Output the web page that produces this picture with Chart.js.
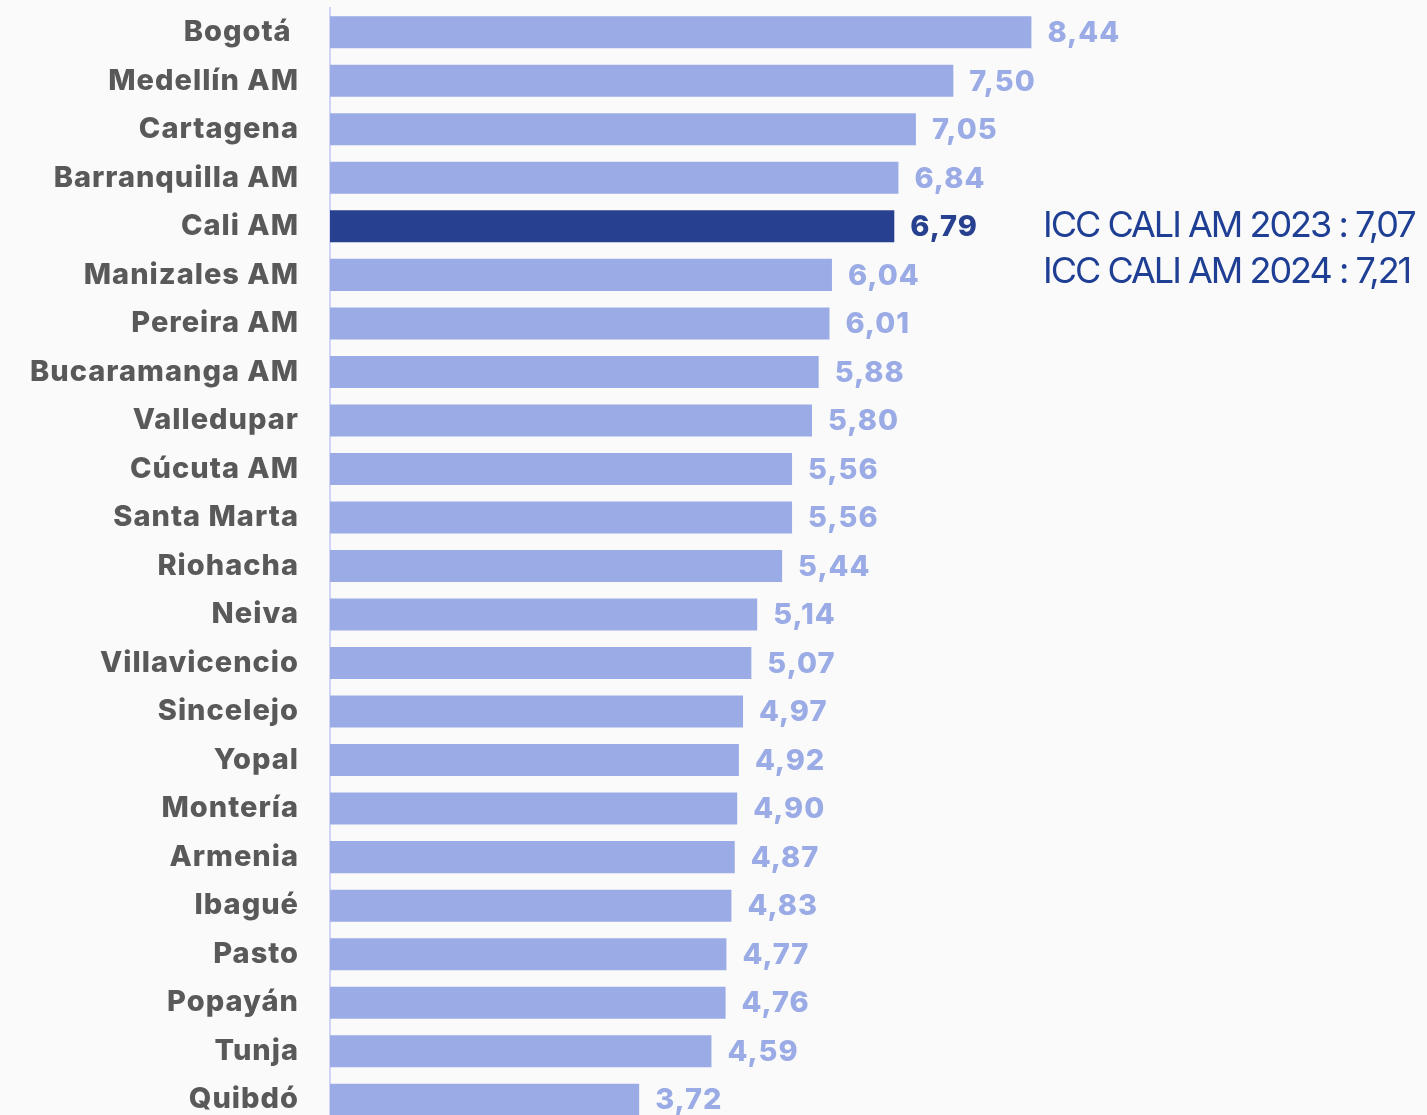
<!DOCTYPE html>
<html>
<head>
<meta charset="utf-8">
<script src="https://cdn.jsdelivr.net/npm/chart.js@4/dist/chart.umd.min.js"></script>
<style>
  html, body { margin: 0; padding: 0; background: #fafafa; overflow: hidden; }
  #grafico { display: block; }
</style>
</head>
<body>
<canvas id="grafico" width="1427" height="1125"></canvas>
<script>
// ciudades y valor del indice, ordenadas de mayor a menor
const ciudades = [
  'Bogotá ', 'Medellín AM', 'Cartagena', 'Barranquilla AM', 'Cali AM',
  'Manizales AM', 'Pereira AM', 'Bucaramanga AM', 'Valledupar', 'Cúcuta AM',
  'Santa Marta', 'Riohacha', 'Neiva', 'Villavicencio', 'Sincelejo',
  'Yopal', 'Montería', 'Armenia', 'Ibagué', 'Pasto',
  'Popayán', 'Tunja', 'Quibdó'
];
const valores = [
  8.44, 7.50, 7.05, 6.84, 6.79,
  6.04, 6.01, 5.88, 5.80, 5.56,
  5.56, 5.44, 5.14, 5.07, 4.97,
  4.92, 4.90, 4.87, 4.83, 4.77,
  4.76, 4.59, 3.72
];
const resaltada = 'Cali AM';
const notas = ['ICC CALI AM 2023 : 7,07', 'ICC CALI AM 2024 : 7,21'];

const colorBarra = '#9aabe5';
const colorCali = '#27408f';
const fuente = 'Inter, "Open Sans", sans-serif';

const colores = ciudades.map(c => c === resaltada ? colorCali : colorBarra);

// letras un poco mas abiertas en todo el grafico
const espaciado = {
  id: 'espaciado',
  beforeUpdate(chart) { chart.ctx.letterSpacing = '1px'; },
  beforeDraw(chart) { chart.ctx.letterSpacing = '1px'; }
};

// etiqueta con el valor al final de cada barra
const etiquetasValor = {
  id: 'etiquetasValor',
  afterDatasetsDraw(chart) {
    const ctx = chart.ctx;
    const meta = chart.getDatasetMeta(0);
    ctx.save();
    ctx.font = '800 29px ' + fuente;
    ctx.textAlign = 'left';
    ctx.textBaseline = 'middle';
    meta.data.forEach((bar, i) => {
      ctx.fillStyle = colores[i];
      ctx.fillText(valores[i].toFixed(2).replace('.', ','), bar.x + 16, bar.y + 1);
    });
    ctx.restore();
  }
};

// texto del ICC de Cali a la derecha
const notaCali = {
  id: 'notaCali',
  afterDraw(chart) {
    const ctx = chart.ctx;
    const y = chart.scales.y;
    const i = ciudades.indexOf(resaltada);
    ctx.save();
    ctx.font = '400 36px ' + fuente;
    ctx.letterSpacing = '-2px';
    ctx.fillStyle = '#1f3f95';
    ctx.textAlign = 'left';
    ctx.textBaseline = 'middle';
    ctx.fillText(notas[0], 1043, y.getPixelForValue(i));
    ctx.fillText(notas[1], 1043, y.getPixelForValue(i + 0.95));
    ctx.restore();
  }
};

new Chart(document.getElementById('grafico'), {
  type: 'bar',
  data: {
    labels: ciudades,
    datasets: [{
      data: valores,
      backgroundColor: colores,
      barPercentage: 0.66,
      categoryPercentage: 1
    }]
  },
  options: {
    indexAxis: 'y',
    responsive: false,
    animation: false,
    layout: { padding: { top: 8, bottom: 1, left: 0, right: 0 } },
    plugins: {
      legend: { display: false },
      tooltip: { enabled: false }
    },
    scales: {
      x: {
        display: false,
        min: 0,
        max: 13.2
      },
      y: {
        afterFit(scale) {
          scale.width = 330;
          scale.paddingTop = 0;
          scale.paddingBottom = 0;
        },
        grid: { display: false, drawTicks: false },
        border: { display: true, color: '#d0d5f6', width: 2 },
        ticks: {
          padding: 31,
          color: '#595959',
          font: { family: fuente, size: 29, weight: 800 }
        }
      }
    }
  },
  plugins: [espaciado, etiquetasValor, notaCali]
});
</script>
</body>
</html>
